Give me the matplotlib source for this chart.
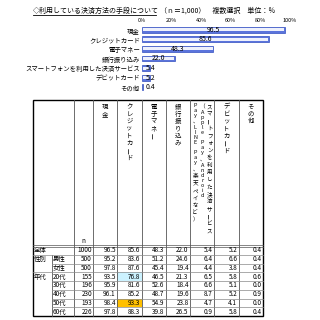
import matplotlib.pyplot as plt

plt.rcParams['font.family'] = ['Noto Sans CJK JP', 'DejaVu Sans']

# bar chart data
methods = ['現金', 'クレジットカード', '電子マネー', '銀行振り込み',
           'スマートフォンを利用した決済サービス', 'デビットカード', 'その他']
share = [96.5, 85.6, 48.3, 22.0, 5.4, 5.2, 0.4]
ticks = [0, 20, 40, 60, 80, 100]

# table data
col_heads = [['現金'], ['クレジットカード'], ['電子マネー'], ['銀行振り込み'],
             ['Pay、LINE Pay、楽天ペイなど）', '（Apple Pay、Android', 'スマートフォンを利用した決済サービス'],
             ['デビットカード'], ['その他']]
groups = ['全体', '性別', '', '年代', '', '', '', '']
rows = ['', '男性', '女性', '20代', '30代', '40代', '50代', '60代']
n_vals = [1000, 500, 500, 155, 196, 230, 193, 226]
table = [
    [96.5, 85.6, 48.3, 22.0, 5.4, 5.2, 0.4],
    [95.2, 83.6, 51.2, 24.6, 6.4, 6.6, 0.4],
    [97.8, 87.6, 45.4, 19.4, 4.4, 3.8, 0.4],
    [93.5, 76.8, 46.5, 21.3, 6.5, 5.8, 0.6],
    [95.9, 81.6, 52.6, 18.4, 6.6, 5.1, 0.0],
    [96.1, 85.2, 48.7, 19.6, 8.7, 5.2, 0.9],
    [98.4, 93.3, 54.9, 23.8, 4.7, 4.1, 0.0],
    [97.8, 88.3, 39.8, 26.5, 0.9, 5.8, 0.4],
]
highlight = {(3, 1): '#ccf2ff', (6, 1): '#ffc000'}

fig = plt.figure(figsize=(3.2, 3.2), dpi=100)

# ---- table / text layer in pixel coords
t = fig.add_axes([0, 0, 1, 1])
t.set_xlim(0, 320)
t.set_ylim(320, 0)
t.axis('off')

t.text(33, 11, '◇利用している決済方法の手段について', fontsize=5, va='center', ha='left')
t.plot([33, 156], [15, 15], color='black', lw=0.6)
t.text(160, 11, '（ｎ＝1,000）　複数選択　単位：％', fontsize=5, va='center', ha='left')

left, right = 33, 263
top, head_bot, bottom = 100, 246, 316
col_x = [93 + i * (right - 93) / 7 for i in range(8)]
row_h = (bottom - head_bot) / len(rows)
row_y = [head_bot + i * row_h for i in range(len(rows) + 1)]

# highlighted cells
for (r, c), col in highlight.items():
    t.add_patch(plt.Rectangle((col_x[c], row_y[r]), col_x[c + 1] - col_x[c], row_h,
                              facecolor=col, edgecolor='none'))

# vertical lines
for x in [74] + col_x[:-1]:
    t.plot([x, x], [top, bottom], color='#555555', lw=0.6)
t.plot([52, 52], [row_y[1], bottom], color='#555555', lw=0.6)
# horizontal lines
for i in range(1, len(rows)):
    x0 = 33 if groups[i] else 52
    t.plot([x0, right], [row_y[i], row_y[i]], color='#888888', lw=0.5)
t.plot([left, right], [head_bot - 1, head_bot - 1], color='#555555', lw=0.5)
t.plot([left, right], [head_bot + 0.5, head_bot + 0.5], color='#555555', lw=0.5)
t.add_patch(plt.Rectangle((left, top), right - left, bottom - top,
                          facecolor='none', edgecolor='black', lw=1.0))

# vertical headers
full_step, half_step = 7.3, 5.0
for c, lines in enumerate(col_heads):
    cx = (col_x[c] + col_x[c + 1]) / 2
    k = len(lines)
    fs = 4.6 if k == 1 else 4.0
    for j, s in enumerate(lines):
        x = cx + (j - (k - 1) / 2) * 7.2
        y = 103
        for ch in s:
            half = ord(ch) < 128
            step = half_step if half else full_step
            if ch != ' ':
                rot = 90 if ch == 'ー' else 0
                t.text(x, y + step / 2, ch, fontsize=fs, ha='center', va='center', rotation=rot)
            y += step
t.text(83.5, 241, 'n', fontsize=4.6, ha='center', va='center')

# row labels and values
for i in range(len(rows)):
    yc = (row_y[i] + row_y[i + 1]) / 2
    if groups[i]:
        t.text(34, yc, groups[i], fontsize=4.6, ha='left', va='center')
    if rows[i]:
        t.text(53, yc, rows[i], fontsize=4.6, ha='left', va='center')
    t.text(92, yc, str(n_vals[i]), fontsize=4.6, ha='right', va='center')
    for c, v in enumerate(table[i]):
        t.text(col_x[c + 1] - 1.5, yc, f'{v:.1f}', fontsize=4.6, ha='right', va='center')

# ---- bar chart
ax = fig.add_axes([142 / 320, 1 - 92 / 320, (290 - 142) / 320, (92 - 25) / 320])
ypos = list(range(len(methods)))
ax.barh(ypos, share, height=0.62, color='#5b74dc', edgecolor='#3450c0', lw=0.5)
ax.barh(ypos, [max(v - 1.2, 0) for v in share], left=0.6, height=0.3, color='#eef1fc', lw=0)
for y, v in zip(ypos, share):
    ax.text(max(v / 2, 5.5), y, f'{v:.1f}', fontsize=5, ha='center', va='center')
ax.set_ylim(len(methods) - 0.5, -0.5)
ax.set_xlim(0, 100)
ax.set_yticks(ypos)
ax.set_yticklabels(methods, fontsize=4.6)
ax.set_xticks(ticks)
ax.set_xticklabels([f'{v}%' for v in ticks], fontsize=4)
ax.xaxis.tick_top()
ax.tick_params(length=0, pad=1.5)
for s in ax.spines.values():
    s.set_visible(False)

fig.savefig('out.png', dpi=100)
